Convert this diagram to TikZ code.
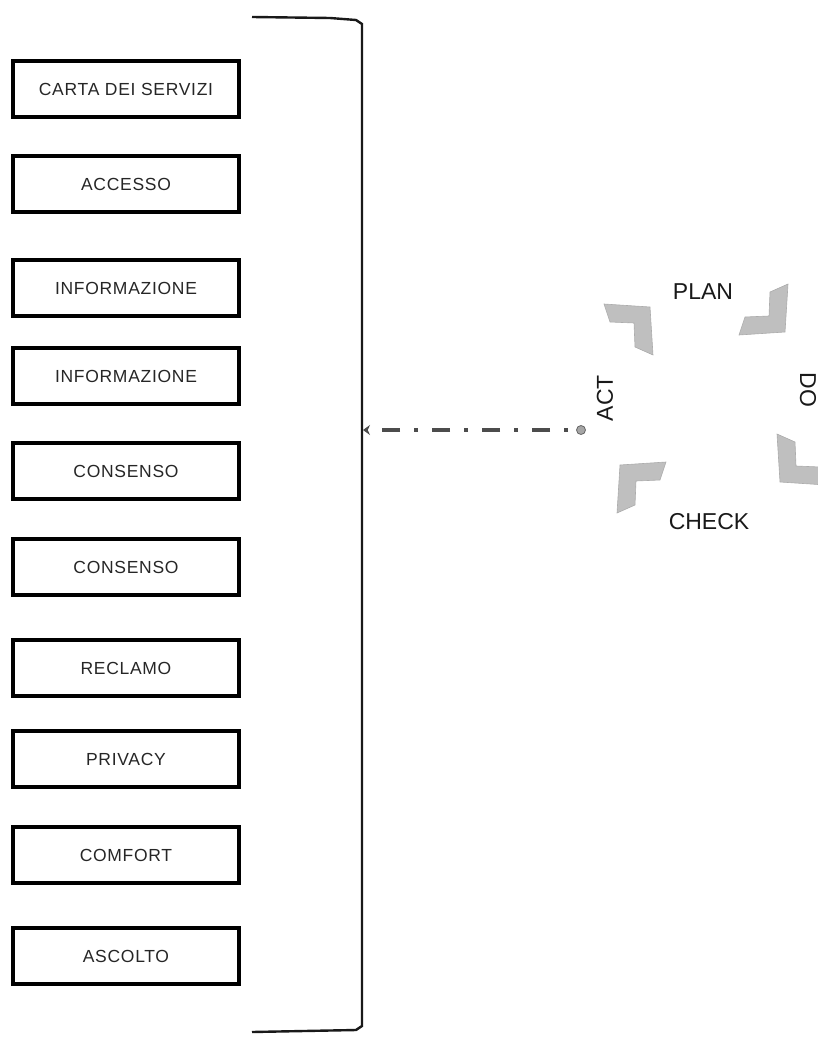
\documentclass[tikz,border=0pt]{standalone}
\usepackage{fontspec}
\setmainfont{Liberation Sans}
\newfontfamily\boxfont[LetterSpace=4]{Liberation Sans}
\usetikzlibrary{arrows.meta}
\tikzset{
  itembox/.style={draw=black, line width=3.2pt, minimum width=226pt, minimum height=56pt,
    inner sep=0pt, font=\boxfont\fontsize{17.5}{19}\selectfont, text=black!85},
  cyc/.style={font=\fontsize{23}{26}\selectfont, text=black!90, inner sep=0pt},
  brk/.style={line width=2.4pt, black!90},
  conn/.style={line width=3.2pt, black!70, dash pattern=on 4pt off 14pt on 18pt off 14pt, dash phase=42pt},
  chevfill/.style={fill=gray!50, draw=gray!65, line width=0.6pt},
  chev/.pic={\path[chevfill] (0,0) -- (46,-3) -- (40,15) -- (16,16) -- (15,40) -- (-3,48) -- cycle;}
}
\begin{document}
\begin{tikzpicture}[x=1pt, y=-1pt]
\useasboundingbox (0,0) rectangle (818,1043);
% item boxes
\node[itembox] (b1)  at (126,89)  {CARTA DEI SERVIZI};
\node[itembox] (b2)  at (126,184) {ACCESSO};
\node[itembox] (b3)  at (126,288) {INFORMAZIONE};
\node[itembox] (b4)  at (126,376) {INFORMAZIONE};
\node[itembox] (b5)  at (126,471) {CONSENSO};
\node[itembox] (b6)  at (126,567) {CONSENSO};
\node[itembox] (b7)  at (126,668) {RECLAMO};
\node[itembox] (b8)  at (126,759) {PRIVACY};
\node[itembox] (b9)  at (126,855) {COMFORT};
\node[itembox] (b10) at (126,956) {ASCOLTO};
% bracket
\draw[brk] (252,17) -- (330,18) -- (356,20) -- (362,24) -- (362,1026) -- (356,1030) -- (252,1032);
\coordinate (bmid) at (363,430);
% connector
\node[circle, fill=gray!70, draw=black!60, line width=0.8pt, minimum size=9pt, inner sep=0pt] (dot) at (581,430) {};
\draw[conn, -{Stealth[length=7pt,width=10pt]}] (dot.west) -- (bmid);
% PDCA cycle
\node[cyc] (plan)  at (703,292) {PLAN};
\node[cyc, rotate=-90] (do) at (808,390) {DO};
\node[cyc] (check) at (709,522) {CHECK};
\node[cyc, rotate=90] (act) at (605,398) {ACT};
\pic[xscale=-1] at (650,307) {chev};
\pic[xscale=-1, yscale=-1] at (785,332) {chev};
\pic[yscale=-1] at (780,482) {chev};
\pic at (620,465) {chev};
\end{tikzpicture}
\end{document}
